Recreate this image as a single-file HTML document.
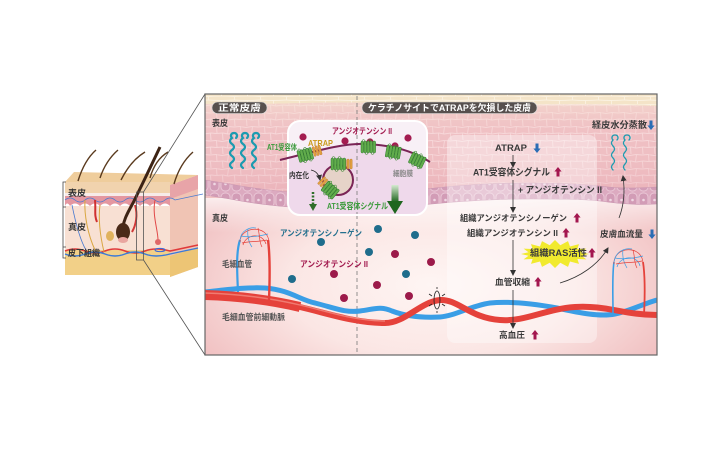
<!DOCTYPE html>
<html><head><meta charset="utf-8">
<style>
html,body{margin:0;padding:0;background:#fff;}
svg{display:block;}
text{font-family:"Liberation Sans","Noto Sans CJK JP",sans-serif;font-weight:bold;}
</style></head>
<body>
<svg width="720" height="450" viewBox="0 0 720 450" xmlns="http://www.w3.org/2000/svg">
<defs>
  <pattern id="cells" width="24" height="14" patternUnits="userSpaceOnUse">
    <rect width="24" height="14" fill="#efbfc3"/>
    <path d="M0,0.5 L6,1.5 L12,0.5 L18,1 L24,0.5 M0,7.5 L7,7 L12,8 L19,7 L24,7.5 M0.5,0 L1,7.5 M12.5,0.5 L11.5,8 M6.5,7 L7,14 M18.5,7 L19,14" stroke="#f7d8da" stroke-width="0.9" fill="none"/>
  </pattern>
  <pattern id="cream" width="26" height="8" patternUnits="userSpaceOnUse">
    <rect width="26" height="8" fill="#f4e4c8"/>
    <path d="M0,0.5 Q13,-0.5 26,0.5 M0.5,0 V4 M13.5,4 V8 M0,4 Q13,5 26,4" stroke="#fbf2e2" stroke-width="0.9" fill="none"/>
  </pattern>
  <pattern id="basal" width="11" height="16" patternUnits="userSpaceOnUse">
    <rect width="11" height="16" fill="#dcaac0"/>
    <rect x="1" y="1" width="9" height="14" rx="4" fill="#d29cb6" stroke="#ebc8d7" stroke-width="0.9"/>
    <circle cx="5.5" cy="8" r="1.3" fill="#f0d8e4"/>
  </pattern>
  <linearGradient id="epig" x1="0" y1="0" x2="0" y2="1">
    <stop offset="0" stop-color="#f7e6d4" stop-opacity="0.55"/>
    <stop offset="0.4" stop-color="#f3c9c9" stop-opacity="0"/>
    <stop offset="1" stop-color="#e39aa8" stop-opacity="0.35"/>
  </linearGradient>
  <radialGradient id="derm" cx="430" cy="285" r="260" gradientUnits="userSpaceOnUse" gradientTransform="translate(430 285) scale(1 0.5) translate(-430 -285)">
    <stop offset="0" stop-color="#fef5f3"/>
    <stop offset="0.55" stop-color="#fbe6e4"/>
    <stop offset="1" stop-color="#f1c2c3"/>
  </radialGradient>
  <linearGradient id="dtop" x1="0" y1="0" x2="0" y2="1">
    <stop offset="0" stop-color="#fff" stop-opacity="0.7"/>
    <stop offset="1" stop-color="#fff" stop-opacity="0"/>
  </linearGradient>
  <linearGradient id="garrow" x1="0" y1="0" x2="0" y2="1">
    <stop offset="0" stop-color="#d5ead0"/>
    <stop offset="1" stop-color="#1f661f"/>
  </linearGradient>
  <clipPath id="boxclip"><rect x="205" y="94" width="452" height="261"/></clipPath>
  <clipPath id="insetclip"><rect x="288" y="121" width="139" height="94" rx="12"/></clipPath>
  <marker id="ah" markerWidth="6" markerHeight="6" refX="5" refY="3" orient="auto" markerUnits="userSpaceOnUse">
    <path d="M0,0 L6,3 L0,6 z" fill="#333"/>
  </marker>
  <g id="rec">
    <rect x="-7" y="-6" width="2.6" height="12" rx="1.2"/>
    <rect x="-4" y="-6" width="2.6" height="12" rx="1.2"/>
    <rect x="-1" y="-6" width="2.6" height="12" rx="1.2"/>
    <rect x="2" y="-6" width="2.6" height="12" rx="1.2"/>
    <rect x="5" y="-6" width="2.6" height="12" rx="1.2"/>
    <path d="M-6,-6 q1.5,-3 3,0 M0,-6 q1.5,-3 3,0 M-3,6 q1.5,3 3,0 M3,6 q1.5,3 3,0" fill="none" stroke="#3f8a35" stroke-width="0.6"/>
  </g>
  <g id="atr">
    <rect x="-3" y="-5" width="2.2" height="10" rx="1"/>
    <rect x="0" y="-5" width="2.2" height="10" rx="1"/>
    <rect x="3" y="-5" width="2.2" height="10" rx="1"/>
  </g>
  <path id="up" d="M0,-5 L3.6,-0.5 L1.5,-0.5 L1.5,4.5 L-1.5,4.5 L-1.5,-0.5 L-3.6,-0.5 Z"/>
  <path id="dn" d="M0,5 L3.6,0.5 L1.5,0.5 L1.5,-4.5 L-1.5,-4.5 L-1.5,0.5 L-3.6,0.5 Z"/>
</defs>

<!-- ===== Left skin illustration ===== -->
<g>
  <polygon points="170,185 198,175 198,267 170,277" fill="#f0c4b4"/>
  <polygon points="170,185 198,175 198,189 170,199" fill="#e8a4a8"/>
  <polygon points="170,256 198,247 198,267 170,277" fill="#edc575"/>
  <polygon points="65,182 74,172 198,175 170,185" fill="#efcd9c"/>
  <rect x="65" y="182" width="105" height="13" fill="#f1d3ae"/>
  <rect x="65" y="193" width="105" height="4" fill="#f7ebe8"/>
  <path d="M65,196 H170 V206 q-5,-5 -10,0 q-5,-5 -10,0 q-5,-5 -10,0 q-5,-5 -10,0 q-5,-5 -10,0 q-5,-5 -10,0 q-5,-5 -10,0 q-5,-5 -10,0 q-5,-5 -10,0 q-5,-5 -10,0 q-3,-5 -5,0 Z" fill="#e497a0"/>
  <rect x="65" y="206" width="105" height="45" fill="#f8e0d3"/>
  <rect x="65" y="250" width="105" height="25" fill="#f2d088"/>
  <path d="M65,200 q5,-4 10,0 q5,4 10,0 q5,-4 10,0 q5,4 10,0 q5,-4 10,0 q5,4 10,0 q5,-4 10,0 q5,4 10,0 q5,-4 10,0 q5,4 10,0 q5,-4 10,0 l28,-6" fill="none" stroke="#4a7ad0" stroke-width="0.8"/>
  <path d="M65,251 q10,-4 20,0 q10,4 20,0 q10,-4 20,0 q10,4 20,0 q10,-4 25,0 l28,-6" fill="none" stroke="#e03a3a" stroke-width="1.6"/>
  <path d="M65,254 q10,4 20,0 q10,-4 20,0 q10,4 20,0 q10,-4 20,0 q10,4 25,0 l28,-6" fill="none" stroke="#3a7ad8" stroke-width="1.4"/>
  <path d="M85,200 C84,215 88,235 95,250" fill="none" stroke="#d9a640" stroke-width="1"/>
  <path d="M100,205 C98,220 100,235 104,252" fill="none" stroke="#d9a640" stroke-width="1"/>
  <path d="M72,205 C75,220 80,240 86,250" fill="none" stroke="#4a7ad0" stroke-width="0.8"/>
  <path d="M95,200 C96,210 94,215 97,222" fill="none" stroke="#d03030" stroke-width="2"/>
  <path d="M155,200 C152,215 158,230 158,240" fill="none" stroke="#e04848" stroke-width="1"/>
  <circle cx="158" cy="242" r="3" fill="#e06868"/>
  <ellipse cx="160" cy="250" rx="5" ry="1.6" fill="none" stroke="#3a6ad8" stroke-width="1"/>
  <ellipse cx="110" cy="236" rx="4" ry="5" fill="#d9a640" opacity="0.8"/>
  <path d="M122,235 C122,222 128,212 133,203 C142,185 151,166 160,147" fill="none" stroke="#3d2314" stroke-width="3"/>
  <ellipse cx="123" cy="232" rx="7" ry="9" fill="#4a2a18"/>
  <ellipse cx="123" cy="240" rx="5" ry="3" fill="#e9a6a0"/>
  <path d="M135,205 C138,215 136,225 132,232" fill="none" stroke="#d03838" stroke-width="2"/>
  <g fill="none" stroke="#5a3a1e" stroke-width="1.4">
    <path d="M78,181 C82,168 88,157 96,150"/>
    <path d="M100,178 C104,166 110,157 118,150"/>
    <path d="M121,180 C127,168 135,158 145,152"/>
    <path d="M150,178 C153,167 158,158 168,152"/>
    <path d="M174,184 C178,170 184,160 193,152"/>
  </g>
  <path d="M66,182 H63 V258 H66 M63,207 H66 M63,247 H66" fill="none" stroke="#444" stroke-width="0.8"/>
  <text x="68" y="196" font-size="8.5" fill="#333" textLength="18" lengthAdjust="spacingAndGlyphs">表皮</text>
  <text x="68" y="230" font-size="8.5" fill="#333" textLength="18" lengthAdjust="spacingAndGlyphs">真皮</text>
  <text x="68" y="256" font-size="8.5" fill="#333" textLength="32" lengthAdjust="spacingAndGlyphs">皮下組織</text>
  <rect x="136.5" y="192" width="7" height="68" fill="none" stroke="#555" stroke-width="0.8"/>
  <path d="M143.5,192 L205,94 M143.5,260 L205,355" stroke="#555" stroke-width="0.8" fill="none"/>
</g>

<!-- ===== Main box ===== -->
<g clip-path="url(#boxclip)">
  <rect x="205" y="94" width="452" height="261" fill="url(#derm)"/>
  <rect x="205" y="198" width="452" height="35" fill="url(#dtop)"/>
  <rect x="205" y="94" width="452" height="16" fill="url(#cream)"/>
  <path d="M205,104 C260,106 320,100 400,104 C480,108 560,102 657,106 V187 C640,188 620,189 600,186 C580,184 555,183 530,183 C505,183 480,184 455,186 C430,188 400,193 380,193 C355,194 330,194 305,193 C280,192 250,188 230,184 L205,180 Z" fill="url(#cells)"/>
  <path d="M205,104 C260,106 320,100 400,104 C480,108 560,102 657,106 V187 C640,188 620,189 600,186 C580,184 555,183 530,183 C505,183 480,184 455,186 C430,188 400,193 380,193 C355,194 330,194 305,193 C280,192 250,188 230,184 L205,180 Z" fill="url(#epig)"/>
  <path d="M205,180 L230,184 C250,188 280,192 305,193 C330,194 355,194 380,193 C400,193 430,188 455,186 C480,184 505,183 530,183 C555,183 580,184 600,186 C620,189 640,188 657,187 V204 C640,205 620,204 600,201 C580,199 555,199 530,199 C505,199 480,200 455,202 C430,204 400,207 380,208 C355,209 330,209 305,208 C280,207 250,203 230,199 L205,195 Z" fill="url(#basal)" stroke="#c996b0" stroke-width="0.6"/>

  <!-- right flow panel -->
  <rect x="447" y="135" width="150" height="208" rx="8" fill="#fff" opacity="0.38"/>

  <!-- dashed divider -->
  <line x1="357" y1="96" x2="357" y2="355" stroke="#777" stroke-width="0.8" stroke-dasharray="4,3"/>

  <!-- water lines -->
  <g fill="none" stroke="#1c9bb0" stroke-width="2.2" stroke-linecap="round">
    <path d="M232,168 q-4,-3 0,-6 q4,-3 0,-6 q-4,-3 0,-6 q4,-3 0,-6 q-4,-3 0,-6 c-2,-2 -1,-5 2,-5 c3,0 4,3 2,5"/>
    <path d="M243,168 q-4,-3 0,-6 q4,-3 0,-6 q-4,-3 0,-6 q4,-3 0,-6 q-4,-3 0,-6 c-2,-2 -1,-5 2,-5 c3,0 4,3 2,5"/>
    <path d="M254,168 q-4,-3 0,-6 q4,-3 0,-6 q-4,-3 0,-6 q4,-3 0,-6 q-4,-3 0,-6 c-2,-2 -1,-5 2,-5 c3,0 4,3 2,5"/>
    <path d="M613,170 q-3,-3 0,-6 q3,-3 0,-6 q-3,-3 0,-6 q3,-3 0,-6 q-3,-3 0,-6 c-2,-2 -1,-5 2,-5 c3,0 4,3 2,5" stroke-width="1.3"/>
    <path d="M625,170 q-3,-3 0,-6 q3,-3 0,-6 q-3,-3 0,-6 q3,-3 0,-6 q-3,-3 0,-6 c-2,-2 -1,-5 2,-5 c3,0 4,3 2,5" stroke-width="1.3"/>
  </g>

  <!-- vessels -->
  <path d="M205,292 C225,290 245,287 265,288 C290,290 300,300 315,303 C335,308 345,313 360,311 C375,309 380,306 392,311 C405,316 420,318 440,317 C455,316 470,306 490,303 C510,301 535,304 557,308 C580,313 600,317 615,314 C630,311 645,303 657,300" fill="none" stroke="#3a9ee6" stroke-width="5"/>
  <path d="M205,295 C240,296 270,300 300,307 C330,314 355,323 385,323 C405,323 420,302 440,300 C458,299 470,318 500,320 C525,322 545,309 575,307 C605,305 625,315 657,315" fill="none" stroke="#e5423b" stroke-width="6"/>
  <path d="M205,295 C240,296 270,300 300,307" fill="none" stroke="#e5423b" stroke-width="10"/>
  <path d="M205,293 C240,294 270,298 300,305 C330,312 355,321 385,321" fill="none" stroke="#f38a80" stroke-width="1.4" opacity="0.8"/>

  <!-- capillary loop left -->
  <path d="M238,292 C237,270 236,252 240,240" fill="none" stroke="#3a9ee6" stroke-width="2.2"/>
  <path d="M269,300 C270,275 270,255 268,240" fill="none" stroke="#e5423b" stroke-width="2.4"/>
  <g fill="none" stroke-width="0.7">
    <path d="M240,242 C240,226 268,224 269,242" stroke="#e5423b"/>
    <path d="M240,240 C241,230 250,227 256,228" stroke="#3a9ee6"/>
    <path d="M243,245 C246,234 262,232 266,244" stroke="#e5423b"/>
    <path d="M241,236 C250,238 260,236 268,234" stroke="#3a9ee6"/>
    <path d="M248,229 C247,236 249,243 252,247" stroke="#3a9ee6"/>
    <path d="M258,228 C260,236 259,242 262,247" stroke="#e5423b"/>
    <path d="M242,243 C250,241 258,242 267,240" stroke="#e5423b"/>
  </g>
  <!-- capillary loop right -->
  <path d="M613,313 C613,295 612,275 614,262" fill="none" stroke="#3a9ee6" stroke-width="1.6"/>
  <path d="M644,315 C645,295 645,275 643,262" fill="none" stroke="#e5423b" stroke-width="1.8"/>
  <g fill="none" stroke-width="0.7">
    <path d="M614,264 C613,246 643,244 643,264" stroke="#e5423b"/>
    <path d="M614,262 C616,250 626,248 632,249" stroke="#3a9ee6"/>
    <path d="M617,267 C620,256 637,254 640,266" stroke="#3a9ee6"/>
    <path d="M615,258 C625,260 635,258 643,256" stroke="#3a9ee6"/>
    <path d="M623,250 C622,257 624,263 627,268" stroke="#3a9ee6"/>
    <path d="M633,250 C635,257 634,263 637,268" stroke="#e5423b"/>
    <path d="M616,264 C625,262 634,263 642,261" stroke="#e5423b"/>
  </g>

  <!-- constriction symbol -->
  <g fill="none" stroke="#222" stroke-width="0.8">
    <ellipse cx="437" cy="300" rx="3" ry="9"/>
    <path d="M437,287 V289 M437,311 V313 M429,294 L432,296 M429,306 L432,304 M445,294 L442,296 M445,306 L442,304"/>
  </g>

  <!-- dots -->
  <g fill="#1f6d8c">
    <circle cx="321" cy="242" r="4"/>
    <circle cx="292" cy="279" r="4"/>
    <circle cx="378" cy="229" r="4"/>
    <circle cx="415" cy="235" r="4"/>
    <circle cx="369" cy="252" r="4"/>
    <circle cx="406" cy="274" r="4"/>
  </g>
  <g fill="#9c1a4a">
    <circle cx="334" cy="274" r="4"/>
    <circle cx="395" cy="254" r="4"/>
    <circle cx="431" cy="262" r="4"/>
    <circle cx="377" cy="285" r="4"/>
    <circle cx="344" cy="298" r="4"/>
    <circle cx="409" cy="296" r="4"/>
  </g>

  <!-- inset box -->
  <rect x="288" y="121" width="139" height="94" rx="12" fill="#f8f0f6"/>
  <g clip-path="url(#insetclip)">
    <path d="M288,158 C320,150 345,143 365,144 C395,145 415,152 427,161 V215 H288 Z" fill="#efd9eb"/>
    <line x1="357" y1="121" x2="357" y2="215" stroke="#777" stroke-width="0.8" stroke-dasharray="4,3"/>
  </g>
  <rect x="288" y="121" width="139" height="94" rx="12" fill="none" stroke="#fff" stroke-width="2"/>
  <path d="M280,160 C320,150 345,143 365,144 C395,145 415,152 430,162" fill="none" stroke="#7a2456" stroke-width="2"/>
  <circle cx="338" cy="180" r="15" fill="#e6d3c8" stroke="#7a2456" stroke-width="2"/>

  <g fill="#a31c50">
    <circle cx="303" cy="137" r="3.6"/>
    <circle cx="345" cy="141" r="3.6"/>
    <circle cx="370" cy="142" r="3.6"/>
    <circle cx="395" cy="146" r="3.6"/>
    <circle cx="408" cy="138" r="3.6"/>
  </g>

  <!-- receptors -->
  <g fill="#e3a040" stroke="#b8782a" stroke-width="0.4">
    <use href="#atr" transform="translate(316,151) rotate(-15)"/>
    <use href="#atr" transform="translate(347,164)"/>
    <use href="#atr" transform="translate(323,182) rotate(45)"/>
  </g>
  <g fill="#62ad4c" stroke="#2f7a2f" stroke-width="0.5">
    <use href="#rec" transform="translate(305,155) rotate(-15)"/>
    <use href="#rec" transform="translate(338,164)"/>
    <use href="#rec" transform="translate(330,190) rotate(40)"/>
    <use href="#rec" transform="translate(368,147)"/>
    <use href="#rec" transform="translate(393,152) rotate(10)"/>
    <use href="#rec" transform="translate(417,160) rotate(25)"/>
  </g>
  <path d="M311,170 C316,171 319,175 320,180" fill="none" stroke="#222" stroke-width="0.8" marker-end="url(#ah)"/>
  <!-- dashed green arrow -->
  <path d="M313,192 V204" stroke="#2f6e2a" stroke-width="2.5" stroke-dasharray="2,1.5"/>
  <polygon points="309,204 317,204 313,211" fill="#2f6e2a"/>
  <!-- big green arrow -->
  <rect x="391.5" y="185" width="7" height="17" fill="url(#garrow)"/>
  <polygon points="387,201 403,201 395,214" fill="#1f661f"/>

  <!-- flow starburst -->
  <polygon points="589,254 581.5,255.8 586.4,259.4 577.4,259 579,263.9 570,261.5 568,266.9 560.3,262.8 555,268 549.7,262.8 542,266.9 540,261.5 531,263.9 532.6,259 523.6,259.4 528.5,255.8 521,254 528.5,252.2 523.6,248.6 532.6,249 531,244.1 540,246.5 542,241.1 549.7,245.2 555,240 560.3,245.2 568,241.1 570,246.5 579,244.1 577.4,249 586.4,248.6 581.5,252.2" fill="#f1ea2e"/>

  <!-- flow lines -->
  <g stroke="#333" stroke-width="0.8" fill="none" marker-end="url(#ah)">
    <line x1="513" y1="155" x2="513" y2="167"/>
    <line x1="513" y1="180" x2="513" y2="212"/>
    <line x1="513" y1="240" x2="513" y2="275"/>
    <line x1="513" y1="290" x2="513" y2="328"/>
    <path d="M560,283 C580,277 598,265 608,248"/>
    <path d="M619,218 C624,205 625,190 623,176"/>
  </g>
</g>
<rect x="205" y="94" width="452" height="261" fill="none" stroke="#666" stroke-width="1.2"/>

<!-- header pills -->
<rect x="212" y="102" width="55" height="11.5" rx="5.5" fill="#57504e" stroke="#ddd" stroke-width="0.6"/>
<text x="218" y="111" font-size="9" fill="#fff" textLength="43" lengthAdjust="spacingAndGlyphs">正常皮膚</text>
<rect x="362" y="102" width="175" height="11.5" rx="5.5" fill="#57504e" stroke="#ddd" stroke-width="0.6"/>
<text x="368" y="111" font-size="9" fill="#fff" textLength="163" lengthAdjust="spacingAndGlyphs">ケラチノサイトでATRAPを欠損した皮膚</text>

<!-- labels -->
<text x="212" y="126" font-size="8.5" fill="#3a3a3a" textLength="16" lengthAdjust="spacingAndGlyphs">表皮</text>
<text x="212" y="221" font-size="8.5" fill="#3a3a3a" textLength="16" lengthAdjust="spacingAndGlyphs">真皮</text>
<text x="267" y="150" font-size="8" fill="#3b9a3b" textLength="30" lengthAdjust="spacingAndGlyphs">AT1受容体</text>
<text x="308" y="146" font-size="8.5" fill="#c99a1c" textLength="25" lengthAdjust="spacingAndGlyphs">ATRAP</text>
<text x="332" y="134" font-size="8.5" fill="#a31c50" textLength="60" lengthAdjust="spacingAndGlyphs">アンジオテンシン II</text>
<text x="289" y="178" font-size="8" fill="#333" textLength="20" lengthAdjust="spacingAndGlyphs">内在化</text>
<text x="393" y="176" font-size="7.5" fill="#888" textLength="20" lengthAdjust="spacingAndGlyphs">細胞膜</text>
<text x="327" y="209" font-size="8.5" fill="#3b9a3b" textLength="61" lengthAdjust="spacingAndGlyphs">AT1受容体シグナル</text>
<text x="280" y="236" font-size="8.5" fill="#24708e" textLength="82" lengthAdjust="spacingAndGlyphs">アンジオテンシノーゲン</text>
<text x="222" y="267" font-size="8.5" fill="#555" textLength="30" lengthAdjust="spacingAndGlyphs">毛細血管</text>
<text x="300" y="267" font-size="8.5" fill="#a31c50" textLength="68" lengthAdjust="spacingAndGlyphs">アンジオテンシン II</text>
<text x="222" y="320" font-size="8.5" fill="#555" textLength="63" lengthAdjust="spacingAndGlyphs">毛細血管前細動脈</text>

<!-- flow texts -->
<g fill="#3a3a3a">
<text x="592" y="128" font-size="9" textLength="55" lengthAdjust="spacingAndGlyphs">経皮水分蒸散</text>
<text x="495" y="151" font-size="9" textLength="32" lengthAdjust="spacingAndGlyphs">ATRAP</text>
<text x="473" y="175.5" font-size="9.5" textLength="77" lengthAdjust="spacingAndGlyphs">AT1受容体シグナル</text>
<text x="518" y="193" font-size="9" textLength="84" lengthAdjust="spacingAndGlyphs">+ アンジオテンシン II</text>
<text x="460" y="221" font-size="8.5" textLength="107" lengthAdjust="spacingAndGlyphs">組織アンジオテンシノーゲン</text>
<text x="467" y="236" font-size="8.5" textLength="91" lengthAdjust="spacingAndGlyphs">組織アンジオテンシン II</text>
<text x="530" y="256" font-size="9" textLength="57" lengthAdjust="spacingAndGlyphs">組織RAS活性</text>
<text x="600" y="237" font-size="8.5" textLength="43" lengthAdjust="spacingAndGlyphs">皮膚血流量</text>
<text x="495" y="285" font-size="8.5" textLength="35" lengthAdjust="spacingAndGlyphs">血管収縮</text>
<text x="499" y="338" font-size="8.5" textLength="26" lengthAdjust="spacingAndGlyphs">高血圧</text>
</g>
<g fill="#2a6db5">
  <use href="#dn" transform="translate(537,148)"/>
  <use href="#dn" transform="translate(651,125)"/>
  <use href="#dn" transform="translate(652,234)"/>
</g>
<g fill="#a3174f">
  <use href="#up" transform="translate(558,172)"/>
  <use href="#up" transform="translate(577,218)"/>
  <use href="#up" transform="translate(566,233)"/>
  <use href="#up" transform="translate(592,253)"/>
  <use href="#up" transform="translate(538,282)"/>
  <use href="#up" transform="translate(535,335)"/>
</g>
</svg>
</body></html>
